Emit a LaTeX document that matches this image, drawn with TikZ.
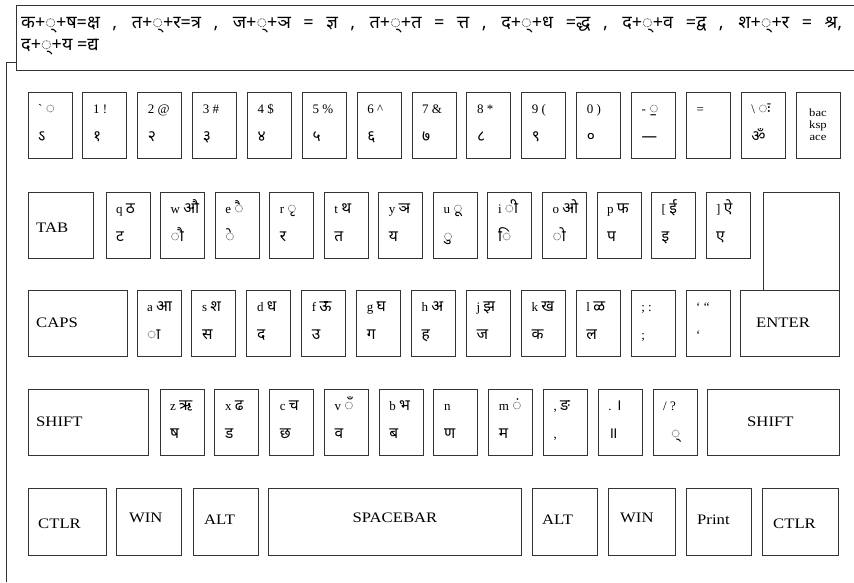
\documentclass[tikz,border=0pt]{standalone}
\usepackage{fontspec}
\setmainfont{Liberation Serif}
\newfontfamily\devf[Script=Devanagari]{Noto Sans}
\newcommand\dev{\devf\fontsize{15.5}{15.5}\selectfont}
\newfontfamily\keyfont[FakeStretch=1.15]{Liberation Serif}
\newcommand\ck[5]{%
  \node[kb, minimum height=66pt] (#1) at (#2,#3) {};
  \node[lab] (#1t) at ([shift={(10,21)}]#1.north west) {#4};
  \node[lab] (#1b) at ([shift={(10,49)}]#1.north west) {#5};
}
\begin{document}
\begin{tikzpicture}[x=1pt,y=-1pt,
  kb/.style={draw=black!80, line width=0.9pt, rectangle, inner sep=0pt, outer sep=0pt, anchor=north west, minimum width=44pt},
  wide/.style={kb, minimum width=#1},
  lab/.style={anchor=base west, inner sep=0pt, font=\fontsize{13}{13}\selectfont},
  big/.style={anchor=west, inner sep=0pt, font=\keyfont\fontsize{14.5}{14.5}\selectfont},
  topline/.style={anchor=base west, inner sep=0pt, font=\devf\fontsize{18}{18}\selectfont}]
\useasboundingbox (0,0) rectangle (854,582);
\fill[white] (0,0) rectangle (854,582);
% note box
\node[kb, minimum width=860pt, minimum height=65pt] (note) at (16,5) {};
\node[topline] (l1) at (21,28) {\makebox[821pt][s]{क+◌्+ष=क्ष , त+◌्+र=त्र , ज+◌्+ञ = ज्ञ , त+◌्+त = त्त , द+◌्+ध =द्ध , द+◌्+व =द्व , श+◌्+र = श्र,}};
\node[topline] (l2) at (21,50) {द+◌्+य =द्य};
\coordinate (tick) at (6,62);
\coordinate (lineend) at (6,582);
\draw[draw=black!80, line width=0.9pt] (note.west |- tick) -- (tick) -- (lineend);
% row 1
\def\ry{92}
\ck{ka}{28}{\ry}{\textasciigrave\ {\dev ◌}}{\dev ऽ}
\ck{kb1}{82.9}{\ry}{1 !}{\dev १}
\ck{kc}{137.7}{\ry}{2 @}{\dev २}
\ck{kd}{192.6}{\ry}{3 \#}{\dev ३}
\ck{ke}{247.4}{\ry}{4 \$}{\dev ४}
\ck{kf}{302.3}{\ry}{5 \%}{\dev ५}
\ck{kg}{357.2}{\ry}{6 \textasciicircum}{\dev ६}
\ck{kh}{412.0}{\ry}{7 \&}{\dev ७}
\ck{ki}{466.9}{\ry}{8 *}{\dev ८}
\ck{kj}{521.7}{\ry}{9 (}{\dev ९}
\ck{kk}{576.6}{\ry}{0 )}{\dev ०}
\ck{kl}{631.5}{\ry}{- {\dev ◌॒}}{\dev —}
\ck{km}{686.3}{\ry}{=}{}
\ck{kn}{741.2}{\ry}{\textbackslash\ {\dev ◌ः}}{\dev ॐ}
\node[kb, minimum height=66pt] (bksp) at (796,\ry) {};
\node[align=center, inner sep=0pt, font=\keyfont\fontsize{11}{12}\selectfont] (bksplab) at (bksp.center) {bac\\ksp\\ace};
% row 2
\def\ry{192}
\node[wide=65pt, minimum height=66pt] (tab) at (28,\ry) {};
\node[big] (tablab) at (36,228) {TAB};
\ck{kq}{106}{\ry}{q {\dev ठ}}{\dev ट}
\ck{kw}{160.5}{\ry}{w {\dev औ}}{\dev ◌ौ}
\ck{kee}{215.1}{\ry}{e {\dev ◌ै}}{\dev ◌े}
\ck{kr}{269.6}{\ry}{r {\dev ◌ृ}}{\dev र}
\ck{kt}{324.2}{\ry}{t {\dev थ}}{\dev त}
\ck{ky}{378.7}{\ry}{y {\dev ञ}}{\dev य}
\ck{ku}{433.3}{\ry}{u {\dev ◌ू}}{\dev ◌ु}
\ck{kii}{487.8}{\ry}{i {\dev ◌ी}}{\dev ◌ि}
\ck{ko}{542.4}{\ry}{o {\dev ओ}}{\dev ◌ो}
\ck{kp}{597}{\ry}{p {\dev फ}}{\dev प}
\ck{klb}{651.5}{\ry}{[ {\dev ई}}{\dev इ}
\ck{krb}{706}{\ry}{] {\dev ऐ}}{\dev ए}
\node[wide=76pt, minimum height=98pt] (entup) at (763,\ry) {};
% row 3
\def\ry{290}
\node[wide=99pt, minimum height=66pt] (caps) at (28,\ry) {};
\node[big] (capslab) at (36,323) {CAPS};
\ck{kaa}{137}{\ry}{a {\dev आ}}{\dev ◌ा}
\ck{ks}{191.9}{\ry}{s {\dev श}}{\dev स}
\ck{kdd}{246.8}{\ry}{d {\dev ध}}{\dev द}
\ck{kff}{301.7}{\ry}{f {\dev ऊ}}{\dev उ}
\ck{kgg}{356.6}{\ry}{g {\dev घ}}{\dev ग}
\ck{khh}{411.5}{\ry}{h {\dev अ}}{\dev ह}
\ck{kjj}{466.4}{\ry}{j {\dev झ}}{\dev ज}
\ck{kkk}{521.3}{\ry}{k {\dev ख}}{\dev क}
\ck{kll}{576.2}{\ry}{l {\dev ळ}}{\dev ल}
\ck{ksemi}{631.1}{\ry}{; :}{;}
\ck{kquote}{686}{\ry}{‘ “}{‘}
\node[wide=99pt, minimum height=66pt] (enter) at (740,\ry) {};
\node[big] (enterlab) at (756,323) {ENTER};
% row 4
\def\ry{389}
\node[wide=120pt, minimum height=66pt] (lshift) at (28,\ry) {};
\node[big] (lshiftlab) at (36,422) {SHIFT};
\ck{kz}{160}{\ry}{z {\dev ऋ}}{\dev ष}
\ck{kx}{214.8}{\ry}{x {\dev ढ}}{\dev ड}
\ck{kcc}{269.6}{\ry}{c {\dev च}}{\dev छ}
\ck{kv}{324.3}{\ry}{v {\dev ◌ँ}}{\dev व}
\ck{kbb}{379.1}{\ry}{b {\dev भ}}{\dev ब}
\ck{knn}{433.9}{\ry}{n}{\dev ण}
\ck{kmm}{488.7}{\ry}{m {\dev ◌ं}}{\dev म}
\ck{kcomma}{543.5}{\ry}{, {\dev ङ}}{,}
\ck{kdot}{598.2}{\ry}{. {\dev ।}}{\dev ॥}
\ck{kslash}{653}{\ry}{/ ?}{\hspace{8pt}\dev ◌्}
\node[wide=132pt, minimum height=66pt] (rshift) at (707,\ry) {};
\node[big] (rshiftlab) at (747,422) {SHIFT};
% row 5
\def\ry{488}
\node[wide=78pt, minimum height=67pt] (lctl) at (28,\ry) {};
\node[big] (lctllab) at (38,524) {CTLR};
\node[wide=65pt, minimum height=67pt] (lwin) at (116,\ry) {};
\node[big] (lwinlab) at (129,518) {WIN};
\node[wide=65pt, minimum height=67pt] (lalt) at (193,\ry) {};
\node[big] (laltlab) at (204,520) {ALT};
\node[wide=253pt, minimum height=67pt] (space) at (268,\ry) {};
\node[big, anchor=center] (spacelab) at (395,518) {SPACEBAR};
\node[wide=65pt, minimum height=67pt] (ralt) at (532,\ry) {};
\node[big] (raltlab) at (542,520) {ALT};
\node[wide=67pt, minimum height=67pt] (rwin) at (608,\ry) {};
\node[big] (rwinlab) at (620,518) {WIN};
\node[wide=65pt, minimum height=67pt] (print) at (686,\ry) {};
\node[big] (printlab) at (697,520) {Print};
\node[wide=76pt, minimum height=67pt] (rctl) at (762,\ry) {};
\node[big] (rctllab) at (773,524) {CTLR};
\end{tikzpicture}
\end{document}
